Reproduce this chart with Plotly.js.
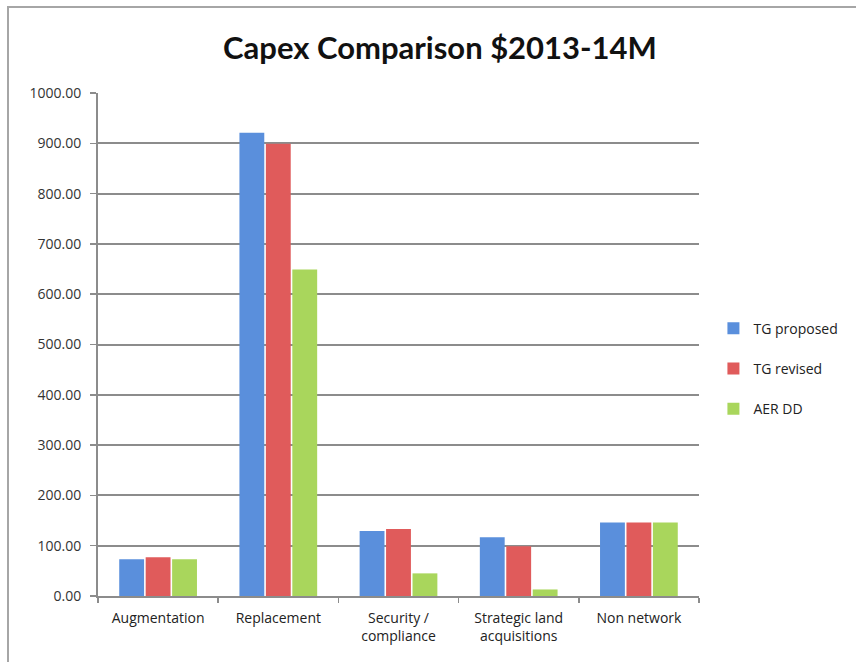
<!DOCTYPE html>
<html>
<head>
<meta charset="utf-8">
<script src="https://cdn.plot.ly/plotly-3.0.1.min.js"></script>
<style>
html,body{margin:0;padding:0;background:#fff;}
#chart{width:856px;height:662px;position:absolute;left:0;top:0;}
#frame{position:absolute;left:7px;top:6px;width:860px;height:670px;border-left:2px solid #a6a6a6;border-top:2px solid #a6a6a6;pointer-events:none;}
</style>
</head>
<body>
<div id="chart"></div>
<div id="frame"></div>
<script>
const categories = ["Augmentation", "Replacement", "Security /<br>compliance", "Strategic land<br>acquisitions", "Non network"];
const tgProposed = [73, 921, 129, 117, 146];
const tgRevised  = [77, 899, 133, 99, 146];
const aerDD      = [73, 649, 45, 13, 146];
const seriesNames = ["TG proposed", "TG revised", "AER DD"];
const seriesColors = ["#5a8fdc", "#e05b5b", "#a9d65c"];
const yTickVals = [0,100,200,300,400,500,600,700,800,900,1000];

const font = "'Open Sans', Lato, sans-serif";
const traces = [tgProposed, tgRevised, aerDD].map((vals, i) => ({
  type: "bar",
  x: categories,
  y: vals,
  name: seriesNames[i],
  legendgroup: "g" + i,
  marker: {color: seriesColors[i]},
  hoverinfo: "x+y+name"
}));

const layout = {
  width: 856, height: 662,
  margin: {l: 98, r: 157, t: 93, b: 66, autoexpand: false},
  paper_bgcolor: "#fff", plot_bgcolor: "#fff",
  title: {text: "<b>Capex Comparison $2013-14M</b>", x: 0.514, xanchor: "center", y: 0.928, yanchor: "middle",
          font: {family: "Lato, sans-serif", size: 31, color: "#111"}},
  barmode: "group",
  bargap: 0.34,
  bargroupgap: 0.06,
  showlegend: true,
  legend: {x: 1.024, xanchor: "left", y: 0.452, yanchor: "middle", tracegroupgap: 19,
           font: {family: font, size: 14, color: "#222"}, itemwidth: 30, bgcolor: "rgba(0,0,0,0)"},
  xaxis: {
    showline: true, linecolor: "#8c8c8c", linewidth: 2,
    ticks: "outside", tickson: "boundaries", ticklen: 5, tickcolor: "#8c8c8c", tickwidth: 1.5,
    tickfont: {family: font, size: 14, color: "#222"},
    ticklabelstandoff: 8,
    showgrid: false, fixedrange: true
  },
  yaxis: {
    range: [0, 1000], tickvals: yTickVals, tickformat: ".2f",
    showline: true, linecolor: "#8c8c8c", linewidth: 2,
    ticks: "outside", ticklen: 6, tickcolor: "#8c8c8c", tickwidth: 1.5,
    showgrid: true, gridcolor: "#8c8c8c", gridwidth: 2,
    zeroline: false,
    tickfont: {family: font, size: 14, color: "#333"},
    ticklabelstandoff: 6, fixedrange: true
  }
};

Plotly.newPlot("chart", traces, layout, {displayModeBar: false, staticPlot: true});
</script>
</body>
</html>
